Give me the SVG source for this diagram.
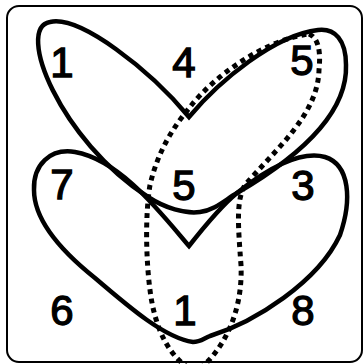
<svg xmlns="http://www.w3.org/2000/svg" width="364" height="364" viewBox="0 0 364 364">
<style>
.frame{fill:#fff;stroke:#000;stroke-width:2}
.solid{fill:none;stroke:#000;stroke-width:4.5;stroke-linejoin:miter}
.dot{fill:none;stroke:#000;stroke-width:5;stroke-dasharray:5 4.5}
.lbl{font-family:"Liberation Sans",Arial,sans-serif;font-size:42px;font-weight:normal;text-anchor:middle;fill:#000;stroke:#000;stroke-width:1.3}
</style>
<rect class="frame" x="7" y="6" width="355" height="356" rx="12"/>
<g id="top-heart">
<path class="solid" d="M189,117 C150,70 80,15 50,22 C15,28 60,140 148,197 C165,208 185,214 200,212 C215,210 225,200 237,193 C285,165 348,120 346,65 C346,40 335,28 318,30 C275,35 220,80 189,117 Z"/>
</g>
<g id="bottom-heart">
<path class="solid" d="M189,246 C160,212 120,160 75,152 C50,148 33,165 34,190 C34,220 60,250 95,278 C130,308 165,338 193,342 C200,342 203,339 210,336 C255,322 318,282 340,235 C352,200 350,165 325,157 C300,150 265,170 237,193 C220,207 200,232 189,246 Z"/>
</g>
<g id="dotted-loop">
<path class="dot" d="M309,34 C318,38 321,50 319,70 C318,115 275,150 245,185 C236,200 238,225 241,265 C243,310 225,350 196,372 C170,360 155,330 150,290 C146,260 145,215 150,185 C158,150 175,125 190,107 C215,75 265,40 309,34 Z"/>
</g>
<g id="labels">
<text class="lbl" x="62" y="77">1</text>
<text class="lbl" x="184" y="77">4</text>
<text class="lbl" x="302" y="75">5</text>
<text class="lbl" x="62" y="199">7</text>
<text class="lbl" x="184" y="200">5</text>
<text class="lbl" x="303" y="200">3</text>
<text class="lbl" x="62" y="325">6</text>
<text class="lbl" x="185" y="325">1</text>
<text class="lbl" x="303" y="325">8</text>
</g>
</svg>
